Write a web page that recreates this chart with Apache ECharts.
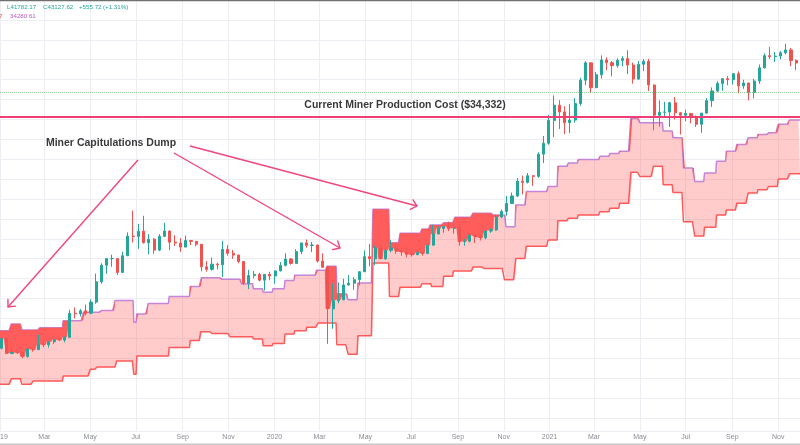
<!DOCTYPE html>
<html>
<head>
<meta charset="utf-8">
<script src="https://cdn.jsdelivr.net/npm/echarts@6.0.0/dist/echarts.min.js"></script>
<style>
html,body{margin:0;padding:0;background:#fff;}
#chart{width:800px;height:445px;}
</style>
</head>
<body>
<div id="chart"></div>
<script>
// ---------------- DATA ----------------
const monthNames = ['Jan','Feb','Mar','Apr','May','Jun','Jul','Aug','Sep','Oct','Nov','Dec'];
const firstDay = '2019-01-01';
const lastDay = '2021-11-30';
const firstWeekMid = '2019-01-03'; // Thursday of the week starting Mon 2018-12-31

// Weekly BTC candles (week starting Monday 2018-12-31)
const weekOpen = [
3690,4050,3510,3540,3530,3410,3660,3640,3830,3820,3930,4010,3990,
4100,5160,5140,5290,5170,5750,6990,8200,8740,8740,7650,8980,10850,
10810,11370,10180,10530,9480,10820,11390,10230,10140,9760,10400,10310,10030,
8070,7880,8280,8230,9550,9200,9040,8500,6900,7420,7510,7100,7510,
7390,7760,8190,8700,8340,9340,10160,9920,9960,8530,8040,5390,5830,
5880,6780,6900,7130,7700,8900,8720,9670,8720,9460,9670,9380,9300,
9120,9070,9290,9170,9940,11070,11680,11910,11680,11710,10280,10330,10940,
10780,10670,11390,11500,13030,13740,14840,15960,18400,18180,19380,19280,23860,
26500,33000,38200,35800,32300,33100,38800,48600,57400,45200,51200,59000,57500,
55900,58800,59800,56200,49100,56600,58300,46400,34700,35700,35800,39100,35500,
34700,35300,34200,31800,35400,39900,43800,47100,49300,48800,51700,46000,47300,
43200,48200,54700,61500,60900,61300,63200,65000,58700];
const weekClose = [
4050,3510,3540,3530,3410,3660,3640,3830,3820,3930,4010,3990,4100,
5160,5140,5290,5170,5750,6990,8200,8740,8740,7650,8980,10850,10810,
11370,10180,10530,9480,10820,11390,10230,10140,9760,10400,10310,10030,8070,
7880,8280,8230,9550,9200,9040,8500,6900,7420,7510,7100,7510,7390,
7760,8190,8700,8340,9340,10160,9920,9960,8530,8040,5390,5830,5880,
6780,6900,7130,7700,8900,8720,9670,8720,9460,9670,9380,9300,9120,
9070,9290,9170,9940,11070,11680,11910,11680,11710,10280,10330,10940,10780,
10670,11390,11500,13030,13740,14840,15960,18400,18180,19380,19280,23860,26500,
33000,38200,35800,32300,33100,38800,48600,57400,45200,51200,59000,57500,55900,
58800,59800,56200,49100,56600,58300,46400,34700,35700,35800,39100,35500,34700,
35300,34200,31800,35400,39900,43800,47100,49300,48800,51700,46000,47300,43200,
48200,54700,61500,60900,61300,63200,65000,58700,57300];
const weekLow = [
3650,3500,3480,3500,3350,3370,3570,3640,3730,3710,3850,3950,3910,
4090,4920,5010,5060,5120,5660,6870,7550,8080,7460,7600,8980,10200,
9600,10100,9100,9150,9380,10820,9480,9860,9330,9750,9960,9830,7730,
7710,7780,7880,7310,9000,8720,8350,6790,6520,7230,7020,6430,7100,
6870,7740,8100,8240,8340,9120,9700,9300,8410,8000,3850,4450,5690,
5860,6740,6470,6760,7690,8100,8200,8700,8630,9280,9150,8970,8830,
8910,9050,9000,9120,9940,11050,11200,11380,11100,9900,9880,10200,10140,
10400,10530,11200,11420,12900,13200,14800,15800,16200,18000,17600,19000,21900,
26100,28100,30400,28900,29200,32300,38000,46300,43000,45000,49300,53500,50400,
54800,55500,51500,47000,48800,53000,43800,30000,31100,34000,31000,33300,28800,
32700,32100,31000,29300,35200,37600,43300,43900,46300,46600,42800,44700,40000,
40800,46900,54400,59600,57900,59400,62300,55600,53500];
const weekHigh = [
4090,4110,3730,3630,3560,3690,3700,4200,3910,3960,4030,4070,4130,
5340,5460,5380,5620,5900,7560,8350,8780,9070,8750,9330,11250,13880,
12200,13190,11050,10650,11050,12330,11450,10950,10630,10900,10440,10360,10060,
8530,8830,8400,10370,9950,9500,9100,8520,7840,7760,7620,7520,7700,
7800,8450,9190,8790,9570,10160,10500,10250,10000,9190,8150,6900,6950,
7200,7460,7300,7720,9460,10060,9880,9900,9700,10430,9980,9590,9790,
9300,9470,9350,10030,12100,11900,12060,12470,11800,12090,10580,11100,10990,
10950,11480,11720,13350,14000,15960,16490,18950,19420,19900,19410,24300,28400,
34800,41950,40100,37800,38500,40900,49700,58350,57500,52600,61700,60500,58400,
60000,61200,64800,57500,58400,59500,59600,46600,40000,39500,39500,41300,35800,
36600,35400,34600,35400,40900,45300,48100,49400,50500,51900,52900,48800,47400,
49200,56500,62900,67000,63700,64300,69000,66300,59300];

// Miner production cost band (step changes)
const upperDates = ['2019-01-01','2019-01-16','2019-01-30','2019-02-23','2019-03-26','2019-04-22','2019-05-14','2019-06-03','2019-06-28','2019-07-02','2019-07-17','2019-08-14','2019-09-11','2019-09-26','2019-10-23','2019-11-18','2019-12-04','2019-12-17','2019-12-30','2020-01-15','2020-01-28','2020-02-26','2020-03-11','2020-03-24','2020-04-08','2020-04-21','2020-05-11','2020-06-02','2020-06-16','2020-07-15','2020-07-26','2020-08-13','2020-08-28','2020-09-21','2020-10-18','2020-11-04','2020-11-17','2020-12-01','2020-12-30','2021-01-12','2021-01-26','2021-02-08','2021-03-09','2021-03-22','2021-04-04','2021-04-19','2021-05-01','2021-06-01','2021-06-14','2021-06-28','2021-07-13','2021-07-26','2021-08-11','2021-08-24','2021-09-07','2021-09-22','2021-10-05','2021-10-19','2021-11-01','2021-11-16'];
const upperValues = [4367,4660,4396,4495,4811,5214,5301,5840,4733,5134,5672,6069,6686,7274,7156,6863,6539,6327,6539,7087,7438,7807,8115,6230,5879,6903,14049,10168,11138,11610,12069,12340,13002,13516,13295,11871,14646,16659,17485,21221,21931,22642,23378,23996,24536,33576,32301,29778,27935,20895,18353,19907,22274,24536,26180,27935,28843,29320,31775,33125];
const lowerDates = ['2019-01-01','2019-01-16','2019-01-30','2019-02-14','2019-03-26','2019-05-01','2019-05-10','2019-06-05','2019-06-28','2019-07-02','2019-08-14','2019-09-11','2019-09-25','2019-10-10','2019-11-03','2019-12-04','2019-12-17','2019-12-30','2020-01-15','2020-01-28','2020-02-13','2020-02-28','2020-03-24','2020-04-08','2020-04-21','2020-05-11','2020-06-02','2020-06-16','2020-07-15','2020-07-28','2020-08-13','2020-08-26','2020-09-21','2020-10-05','2020-11-02','2020-11-17','2020-12-01','2020-12-30','2021-01-12','2021-01-26','2021-02-08','2021-03-09','2021-03-22','2021-04-04','2021-04-19','2021-05-01','2021-05-19','2021-06-01','2021-06-14','2021-06-28','2021-07-13','2021-07-26','2021-08-11','2021-08-24','2021-09-07','2021-09-22','2021-10-05','2021-10-19','2021-11-01','2021-11-16'];
const lowerValues = [2607,2752,2607,2691,2825,3014,3082,3266,2872,3428,3715,3980,4325,4254,4121,4030,3777,3862,4230,4367,4520,4700,3814,3486,4161,8378,6069,6641,6863,6686,7366,7754,8060,7936,7135,8743,9850,10438,12581,12878,13295,13727,14187,14890,20023,19263,21221,17775,16498,12460,10849,11802,13295,13955,14890,16403,16935,17485,18784,19773];

const productionCost = 34332;
const lastPrice = 43127.62;
const legendLow = 'L41782.17';
const legendClose = 'C43127.62';
const legendChange = '+555.72';
const legendPct = '(+1.31%)';
const legendIndicator = '34280.61';
const annotationTitle = 'Miner Capitulations Dump';

// ---------------- BUILD TABLES ----------------
const DAY = 86400000;
const iso = t => new Date(t).toISOString().slice(0, 10);
const t0 = Date.parse(firstDay + 'T00:00:00Z');
const t1 = Date.parse(lastDay + 'T00:00:00Z');
const days = [];
for (let t = t0; t <= t1; t += DAY) days.push(iso(t));

function stepDaily(dates, values) {
  const out = []; let k = 0;
  for (let i = 0; i < days.length; i++) {
    while (k + 1 < dates.length && dates[k + 1] <= days[i]) k++;
    out.push(values[k]);
  }
  return out;
}
const upperDaily = stepDaily(upperDates, upperValues);
const lowerDaily = stepDaily(lowerDates, lowerValues);
const bandWidth = upperDaily.map((u, i) => u - lowerDaily[i]);

// close of the week each day belongs to (weeks start Monday 2018-12-31)
const closeDaily = days.map((d, i) => weekClose[Math.min(Math.floor((i + 1) / 7), weekClose.length - 1)]);
const capBase = closeDaily.map((c, i) => Math.min(c, upperDaily[i]));
const capFill = capBase.map((b, i) => upperDaily[i] - b);

const tw0 = Date.parse(firstWeekMid + 'T00:00:00Z');
const candles = [];
weekOpen.forEach((o, k) => {
  const d = iso(tw0 + k * 7 * DAY);
  if (d <= lastDay) candles.push([d, o, weekClose[k], weekLow[k], weekHigh[k]]);
});

const isTickDay = (idx, val) => val.slice(8) === '01' && (+val.slice(5, 7)) % 2 === 1;
const fmtTick = val => {
  const m = +val.slice(5, 7);
  return m === 1 ? val.slice(0, 4) : monthNames[m - 1];
};

// ---------------- ANNOTATIONS ----------------
const pink = '#f0467c';
const arrowDefs = [
  { from: [138, 160], to: [8, 307] },
  { from: [174, 153], to: [340, 248] },
  { from: [190, 146], to: [417, 206] }
];
const graphics = [];
arrowDefs.forEach(a => {
  const [fx, fy] = a.from, [tx, ty] = a.to;
  graphics.push({ type: 'line', silent: true, z: 100, shape: { x1: fx, y1: fy, x2: tx, y2: ty },
    style: { stroke: pink, lineWidth: 1.4 } });
  const L = Math.hypot(fx - tx, fy - ty);
  const bx = (fx - tx) / L, by = (fy - ty) / L;
  const ang = 42 * Math.PI / 180, len = 8;
  const rot = s => [tx + len * (bx * Math.cos(s * ang) - by * Math.sin(s * ang)),
                    ty + len * (bx * Math.sin(s * ang) + by * Math.cos(s * ang))];
  graphics.push({ type: 'polyline', silent: true, z: 100, shape: { points: [rot(1), [tx, ty], rot(-1)] },
    style: { stroke: pink, lineWidth: 1.4, fill: null } });
});
const txt = (text, x, y, size, color, weight, align) => ({
  type: 'text', silent: true, z: 100, x: x, y: y,
  style: { text: text, fill: color, fontSize: size, fontWeight: weight || 'normal',
    fontFamily: 'Liberation Sans, Arial, sans-serif', textAlign: align || 'left', textVerticalAlign: 'middle' }
});
graphics.push(txt(annotationTitle, 111, 143, 10.5, '#3a3a3a', 'bold', 'center'));
graphics.push(txt('Current Miner Production Cost ($' + productionCost.toLocaleString('en-US') + ')', 405, 105, 10.5, '#3a3a3a', 'bold', 'center'));
graphics.push(txt(legendLow, 7, 7.5, 6.2, '#26a69a'));
graphics.push(txt(legendClose, 43, 7.5, 6.2, '#26a69a'));
graphics.push(txt(legendChange, 79, 7.5, 6.2, '#26a69a'));
graphics.push(txt(legendPct, 103, 7.5, 6.2, '#26a69a'));
graphics.push(txt('7', -1, 16, 6.2, '#ef5350'));
graphics.push(txt(legendIndicator, 10, 16, 6.2, '#b05cc4'));
graphics.push({ type: 'rect', silent: true, z: 100, shape: { x: 0, y: 0, width: 800, height: 1.2 }, style: { fill: '#707070' } });
graphics.push({ type: 'rect', silent: true, z: 100, shape: { x: 0, y: 443.5, width: 800, height: 1.5 }, style: { fill: '#c8c8c8' } });

// ---------------- CHART ----------------
const chart = echarts.init(document.getElementById('chart'));
chart.setOption({
  animation: false,
  backgroundColor: '#ffffff',
  grid: { left: 0, right: 0, top: 0, bottom: 14, containLabel: false, outerBoundsMode: 'none' },
  xAxis: {
    type: 'category', data: days, boundaryGap: false,
    axisLine: { lineStyle: { color: '#d3d6de', width: 1 } },
    axisTick: { show: false },
    axisLabel: { interval: isTickDay, formatter: fmtTick, color: '#8a8d97', fontSize: 7,
      fontFamily: 'Liberation Sans, Arial, sans-serif', margin: 3 },
    splitLine: { show: true, interval: isTickDay, lineStyle: { color: '#eceef4', width: 1 } }
  },
  yAxis: [
    { type: 'log', min: 1665, max: 105048, show: false, splitLine: { show: false } },
    { type: 'value', inverse: true, min: 0, max: 431 / 19.9, interval: 1,
      axisLine: { show: false }, axisTick: { show: false }, axisLabel: { show: false },
      splitLine: { show: true, lineStyle: { color: '#eceef4', width: 1 } } }
  ],
  graphic: graphics,
  series: [
    { name: 'lower', type: 'line', yAxisIndex: 0, data: lowerDaily, stack: 'band', showSymbol: false, symbol: 'none',
      lineStyle: { color: '#ff5a5a', width: 1.5 }, silent: true, z: 2 },
    { name: 'upper', type: 'line', yAxisIndex: 0, data: bandWidth, stack: 'band', showSymbol: false, symbol: 'none',
      lineStyle: { color: '#c585d8', width: 1.5 }, areaStyle: { color: 'rgba(255,82,82,0.3)', opacity: 1 }, silent: true, z: 2 },
    { name: 'capBase', type: 'line', yAxisIndex: 0, data: capBase, stack: 'cap', showSymbol: false, symbol: 'none',
      lineStyle: { opacity: 0 }, silent: true, z: 3 },
    { name: 'capFill', type: 'line', yAxisIndex: 0, data: capFill, stack: 'cap', showSymbol: false, symbol: 'none',
      lineStyle: { opacity: 0 }, areaStyle: { color: 'rgba(255,82,82,0.92)', opacity: 1 }, silent: true, z: 3 },
    { name: 'BTC', type: 'candlestick', yAxisIndex: 0, data: candles, encode: { x: 0, y: [1, 2, 3, 4] },
      barWidth: 2.6, silent: true, z: 4,
      itemStyle: { color: '#26a69a', color0: '#ef5350', borderColor: '#26a69a', borderColor0: '#ef5350', borderWidth: 1 },
      markLine: { silent: true, symbol: ['none', 'none'], label: { show: false },
        data: [
          { yAxis: productionCost, lineStyle: { color: '#ee3e74', width: 2, type: 'solid' } },
          { yAxis: lastPrice, lineStyle: { color: '#4caf50', width: 1, type: 'dotted', opacity: 0.55 } }
        ] } }
  ]
});
</script>
</body>
</html>
